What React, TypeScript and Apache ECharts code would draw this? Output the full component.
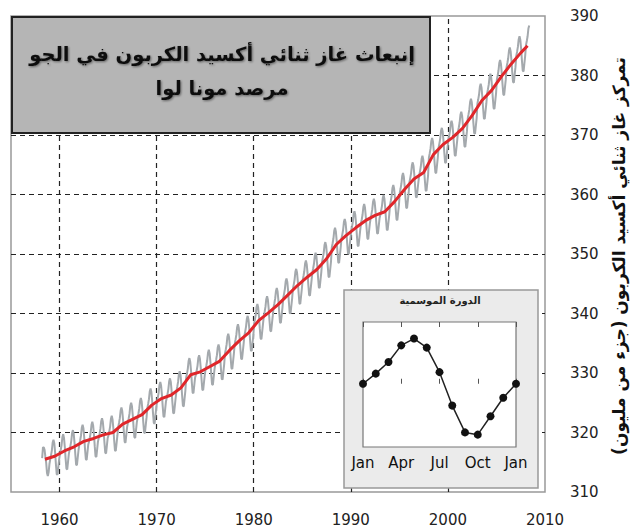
import React, { useEffect, useRef } from "react";
import * as echarts from "echarts";

// ---- data ----
const titleLines = ["إنبعاث غاز ثنائي أكسيد الكربون في الجو", "مرصد مونا لوا"];
const yAxisTitle = "تمركز غاز ثنائي أكسيد الكربون (جزء من مليون)";
const insetTitle = "الدورة الموسمية";

const xLabelValues = [1960, 1970, 1980, 1990, 2000, 2010];
const gridYears = [1960, 1970, 1980, 1990, 2000];
const gridLevels = [320, 330, 340, 350, 360, 370, 380];

// monthly CO2 (ppm), starting March 1958
const monthlyStart = 1958 + 2 / 12;
const monthlyCO2 = [
  315.7, 317.5, 317.5, 317.1, 315.9, 314.9, 313.2, 312.7, 313.3, 314.7,
  315.5, 316.2, 317.0, 318.3, 318.8, 318.2, 316.7, 314.7, 313.0, 312.9, 314.2, 315.5,
  316.4, 317.1, 317.9, 319.2, 319.7, 319.1, 317.6, 315.6, 313.9, 313.8, 315.1, 316.4,
  317.1, 317.8, 318.6, 319.9, 320.4, 319.8, 318.3, 316.3, 314.6, 314.5, 315.8, 317.1,
  318.0, 318.7, 319.5, 320.8, 321.3, 320.7, 319.2, 317.2, 315.5, 315.4, 316.7, 318.0,
  318.5, 319.2, 320.0, 321.3, 321.8, 321.2, 319.7, 317.7, 316.0, 315.9, 317.2, 318.5,
  319.1, 319.8, 320.6, 321.9, 322.4, 321.8, 320.3, 318.3, 316.6, 316.5, 317.8, 319.1,
  319.5, 320.2, 321.0, 322.3, 322.8, 322.2, 320.7, 318.7, 317.0, 316.9, 318.2, 319.5,
  320.9, 321.6, 322.4, 323.7, 324.2, 323.6, 322.1, 320.1, 318.4, 318.3, 319.6, 320.9,
  321.7, 322.4, 323.2, 324.5, 325.0, 324.4, 322.9, 320.9, 319.2, 319.1, 320.4, 321.7,
  322.5, 323.2, 324.0, 325.3, 325.8, 325.2, 323.7, 321.7, 320.0, 319.9, 321.2, 322.5,
  324.1, 324.8, 325.6, 326.9, 327.4, 326.8, 325.3, 323.3, 321.6, 321.5, 322.8, 324.1,
  325.2, 325.9, 326.7, 328.0, 328.5, 327.9, 326.4, 324.4, 322.7, 322.6, 323.9, 325.2,
  325.8, 326.5, 327.3, 328.6, 329.1, 328.5, 327.0, 325.0, 323.3, 323.2, 324.5, 325.8,
  327.0, 327.7, 328.5, 329.8, 330.3, 329.7, 328.2, 326.2, 324.5, 324.4, 325.7, 327.0,
  329.2, 329.9, 330.7, 332.0, 332.5, 331.9, 330.4, 328.4, 326.7, 326.6, 327.9, 329.2,
  329.7, 330.4, 331.2, 332.5, 333.0, 332.4, 330.9, 328.9, 327.2, 327.1, 328.4, 329.7,
  330.6, 331.3, 332.1, 333.4, 333.9, 333.3, 331.8, 329.8, 328.1, 328.0, 329.3, 330.6,
  331.5, 332.2, 333.0, 334.3, 334.8, 334.2, 332.7, 330.7, 329.0, 328.9, 330.2, 331.5,
  333.3, 334.0, 334.8, 336.1, 336.6, 336.0, 334.5, 332.5, 330.8, 330.7, 332.0, 333.3,
  334.9, 335.6, 336.4, 337.7, 338.2, 337.6, 336.1, 334.1, 332.4, 332.3, 333.6, 334.9,
  336.3, 337.0, 337.8, 339.1, 339.6, 339.0, 337.5, 335.5, 333.8, 333.7, 335.0, 336.3,
  338.3, 339.0, 339.8, 341.1, 341.6, 341.0, 339.5, 337.5, 335.8, 335.7, 337.0, 338.3,
  339.6, 340.3, 341.1, 342.4, 342.9, 342.3, 340.8, 338.8, 337.1, 337.0, 338.3, 339.6,
  341.0, 341.7, 342.5, 343.8, 344.3, 343.7, 342.2, 340.2, 338.5, 338.4, 339.7, 341.0,
  342.6, 343.3, 344.1, 345.4, 345.9, 345.3, 343.8, 341.8, 340.1, 340.0, 341.3, 342.6,
  344.2, 344.9, 345.7, 347.0, 347.5, 346.9, 345.4, 343.4, 341.7, 341.6, 342.9, 344.2,
  345.6, 346.3, 347.1, 348.4, 348.9, 348.3, 346.8, 344.8, 343.1, 343.0, 344.3, 345.6,
  346.9, 347.6, 348.4, 349.7, 350.2, 349.6, 348.1, 346.1, 344.4, 344.3, 345.6, 346.9,
  348.7, 349.4, 350.2, 351.5, 352.0, 351.4, 349.9, 347.9, 346.2, 346.1, 347.4, 348.7,
  351.1, 351.8, 352.6, 353.9, 354.4, 353.8, 352.3, 350.3, 348.6, 348.5, 349.8, 351.1,
  352.6, 353.3, 354.1, 355.4, 355.9, 355.3, 353.8, 351.8, 350.1, 350.0, 351.3, 352.6,
  353.9, 354.6, 355.4, 356.7, 357.2, 356.6, 355.1, 353.1, 351.4, 351.3, 352.6, 353.9,
  355.1, 355.8, 356.6, 357.9, 358.4, 357.8, 356.3, 354.3, 352.6, 352.5, 353.8, 355.1,
  356.0, 356.7, 357.5, 358.8, 359.3, 358.7, 357.2, 355.2, 353.5, 353.4, 354.7, 356.0,
  356.6, 357.3, 358.1, 359.4, 359.9, 359.3, 357.8, 355.8, 354.1, 354.0, 355.3, 356.6,
  358.3, 359.0, 359.8, 361.1, 361.6, 361.0, 359.5, 357.5, 355.8, 355.7, 357.0, 358.3,
  360.3, 361.0, 361.8, 363.1, 363.6, 363.0, 361.5, 359.5, 357.8, 357.7, 359.0, 360.3,
  362.1, 362.8, 363.6, 364.9, 365.4, 364.8, 363.3, 361.3, 359.6, 359.5, 360.8, 362.1,
  363.2, 363.9, 364.7, 366.0, 366.5, 365.9, 364.4, 362.4, 360.7, 360.6, 361.9, 363.2,
  366.2, 366.9, 367.7, 369.0, 369.5, 368.9, 367.4, 365.4, 363.7, 363.6, 364.9, 366.2,
  367.9, 368.6, 369.4, 370.7, 371.2, 370.6, 369.1, 367.1, 365.4, 365.3, 366.6, 367.9,
  369.1, 369.8, 370.6, 371.9, 372.4, 371.8, 370.3, 368.3, 366.6, 366.5, 367.8, 369.1,
  370.6, 371.3, 372.1, 373.4, 373.9, 373.3, 371.8, 369.8, 368.1, 368.0, 369.3, 370.6,
  372.8, 373.5, 374.3, 375.6, 376.1, 375.5, 374.0, 372.0, 370.3, 370.2, 371.5, 372.8,
  375.3, 376.0, 376.8, 378.1, 378.6, 378.0, 376.5, 374.5, 372.8, 372.7, 374.0, 375.3,
  377.0, 377.7, 378.5, 379.8, 380.3, 379.7, 378.2, 376.2, 374.5, 374.4, 375.7, 377.0,
  379.3, 380.0, 380.8, 382.1, 382.6, 382.0, 380.5, 378.5, 376.8, 376.7, 378.0, 379.3,
  381.4, 382.1, 382.9, 384.2, 384.7, 384.1, 382.6, 380.6, 378.9, 378.8, 380.1, 381.4,
  383.3, 384.0, 384.8, 386.1, 386.6, 386.0, 384.5, 382.5, 380.8, 380.7, 382.0, 383.3,
  385.1, 385.8, 386.6, 387.9, 388.4,
];

// annual mean (red trend), 1958..2008
const annualStartYear = 1958;
const annualMean = [
  315.5, 316.0, 316.9, 317.6, 318.5, 319.0, 319.6, 320.0, 321.4, 322.2,
  323.0, 324.6, 325.7, 326.3, 327.5, 329.7, 330.2, 331.1, 332.0, 333.8,
  335.4, 336.8, 338.8, 340.1, 341.5, 343.1, 344.7, 346.1, 347.4, 349.2,
  351.6, 353.1, 354.4, 355.6, 356.5, 357.1, 358.8, 360.8, 362.6, 363.7,
  366.7, 368.4, 369.6, 371.1, 373.3, 375.8, 377.5, 379.8, 381.9, 383.8,
  385.0,
];
const annualLastX = 2008.2;

// seasonal cycle inset
const seasonMonths = ["Jan", "Feb", "Mar", "Apr", "May", "Jun", "Jul", "Aug", "Sep", "Oct", "Nov", "Dec", "Jan"];
const seasonalCycle = [0, 0.67, 1.44, 2.55, 3.0, 2.4, 0.77, -1.45, -3.23, -3.38, -2.16, -0.93, 0];

const FONT = "DejaVu Sans";

export default function App() {
  const ref = useRef<HTMLDivElement>(null);
  useEffect(() => {
    if (!ref.current) return;
    const chart = echarts.init(ref.current, undefined, { renderer: "svg" });

    const grayData = monthlyCO2.map((v, i) => [monthlyStart + i / 12 + 1 / 24, v]);
    const redData = annualMean.map((v, i) => [Math.min(annualStartYear + i + 0.5, annualLastX), v]);
    const insetData = seasonalCycle.map((v, i) => [i, v]);

    const gridLineStyle = { color: "#222", width: 1.2, type: [5, 4] as any };

    chart.setOption({
      animation: false,
      backgroundColor: "#fff",
      textStyle: { fontFamily: FONT },
      grid: [
        { left: 11, top: 16, width: 534, height: 476, show: true, borderColor: "#999", borderWidth: 1.5, backgroundColor: "transparent" },
        { left: 363, top: 322, width: 153, height: 125, show: true, borderColor: "#777", borderWidth: 1.2, backgroundColor: "#fff", z: 60 },
      ],
      xAxis: [
        {
          type: "value", gridIndex: 0, min: 1955, max: 2010,
          axisLine: { show: false }, splitLine: { show: false },
          axisTick: { show: true, inside: true, length: 5, customValues: gridYears, lineStyle: { color: "#666" } },
          axisLabel: { customValues: xLabelValues, margin: 20, fontSize: 15, color: "#222", fontFamily: FONT, formatter: (v: number) => String(v) },
        },
        {
          type: "value", gridIndex: 1, min: 0, max: 12, interval: 3, z: 61,
          axisLine: { show: false }, splitLine: { show: false },
          axisTick: { show: true, inside: true, length: 5, lineStyle: { color: "#555" } },
          axisLabel: { margin: 8, fontSize: 15, color: "#111", fontFamily: FONT, formatter: (v: number) => seasonMonths[v] ?? "" },
        },
        {
          type: "value", gridIndex: 1, min: 0, max: 12, interval: 3, position: "top", z: 61,
          axisLine: { show: false }, splitLine: { show: false },
          axisTick: { show: true, inside: true, length: 5, lineStyle: { color: "#555" } },
          axisLabel: { show: false },
        },
      ],
      yAxis: [
        {
          type: "value", gridIndex: 0, min: 310, max: 390, interval: 10, position: "right",
          axisLine: { show: false }, splitLine: { show: false }, axisTick: { show: false },
          axisLabel: { margin: 25, fontSize: 15, color: "#222", fontFamily: FONT },
        },
        {
          type: "value", gridIndex: 1, min: -4.2, max: 4.1, z: 61,
          axisLine: { show: false }, splitLine: { show: false }, axisTick: { show: false }, axisLabel: { show: false },
        },
      ],
      series: [
        {
          type: "line", xAxisIndex: 0, yAxisIndex: 0, data: grayData, showSymbol: false, z: 2,
          lineStyle: { color: "#a4a9ad", width: 2 },
          markLine: {
            silent: true, symbol: "none", z: 1, label: { show: false },
            lineStyle: gridLineStyle,
            data: [
              ...gridYears.map((y) => ({ xAxis: y })),
              ...gridLevels.map((v) => ({ yAxis: v })),
            ],
          },
        },
        {
          type: "line", xAxisIndex: 0, yAxisIndex: 0, data: redData, showSymbol: false, z: 3,
          lineStyle: { color: "#e0262a", width: 3 },
        },
        {
          type: "line", xAxisIndex: 1, yAxisIndex: 1, data: insetData, z: 62,
          symbol: "circle", symbolSize: 8, showSymbol: true,
          itemStyle: { color: "#111" },
          lineStyle: { color: "#222", width: 1.5 },
        },
      ],
      graphic: {
        elements: [
          {
            type: "rect", z: 50,
            shape: { x: 344, y: 290, width: 194, height: 198 },
            style: { fill: "#ebebeb", stroke: "#999", lineWidth: 1.5 },
          },
          {
            type: "text", z: 63, x: 440, y: 300,
            style: { text: insetTitle, font: `bold 10px ${FONT}`, fill: "#222", align: "center", verticalAlign: "middle" },
          },
          {
            type: "rect", z: 70,
            shape: { x: 12, y: 17, width: 418, height: 116 },
            style: { fill: "#b5b5b5", stroke: "#222", lineWidth: 2 },
          },
          {
            type: "text", z: 71, x: 222, y: 71,
            style: {
              text: titleLines.join("\n"), font: `bold 19.5px ${FONT}`, lineHeight: 34,
              fill: "#111", align: "center", verticalAlign: "middle",
              textShadowColor: "rgba(0,0,0,0.45)", textShadowBlur: 2, textShadowOffsetX: 1, textShadowOffsetY: 1,
            } as any,
          },
          {
            type: "text", z: 71, x: 619, y: 256, rotation: Math.PI / 2,
            style: { text: yAxisTitle, font: `bold 17px ${FONT}`, fill: "#111", align: "center", verticalAlign: "middle" },
          },
        ],
      },
    });
    return () => chart.dispose();
  }, []);
  return <div ref={ref} style={{ width: 630, height: 532, position: "absolute", left: 0, top: 0 }} />;
}
